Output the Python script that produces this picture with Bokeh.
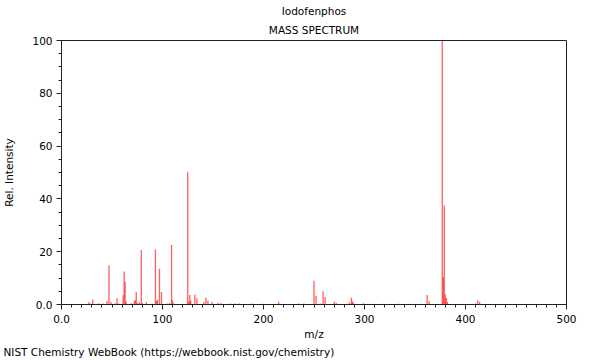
from bokeh.plotting import figure
from bokeh.models import FixedTicker, Title, ColumnDataSource
from bokeh.embed import file_html
from bokeh.resources import INLINE

# m/z values and relative intensities
mz = [27, 29, 31, 37, 41, 45, 47, 49, 53, 55, 57, 61, 62, 63, 64, 69, 72, 73, 74, 75,
      77, 79, 80, 84, 90, 93, 94, 95, 97, 99, 105, 107, 109, 110, 111, 125, 126, 127,
      128, 132, 134, 141, 143, 145, 149, 155, 158, 167, 172, 176, 189, 199, 215, 235,
      240, 250, 252, 256, 259, 261, 270, 272, 285, 287, 288, 289, 299, 309, 319, 334,
      348, 362, 364, 377, 378, 379, 380, 381, 382, 410, 412, 414]
intensity = [0.9, 0.4, 1.9, 0.5, 0.4, 1.3, 14.9, 0.9, 0.5, 2.4, 0.4, 3.5, 12.5, 8.5, 1.1,
             0.5, 1.3, 1.6, 4.7, 0.6, 0.9, 20.6, 0.6, 0.9, 0.3, 20.8, 1.3, 1.8, 13.5, 4.7,
             0.4, 0.6, 22.5, 1.5, 0.4, 50.1, 1.0, 3.6, 1.5, 3.7, 2.4, 0.9, 2.6, 1.5, 0.9,
             0.6, 0.6, 0.4, 0.4, 0.4, 0.4, 0.3, 1.0, 0.4, 0.4, 9.0, 3.3, 0.4, 5.0, 2.8,
             1.0, 0.7, 0.7, 2.6, 1.2, 0.8, 0.5, 0.3, 0.3, 0.3, 0.3, 3.6, 1.3, 100.0,
             10.4, 37.5, 3.8, 2.5, 1.0, 0.4, 1.5, 1.0]

x_major = [0, 100, 200, 300, 400, 500]
y_major = [0, 20, 40, 60, 80, 100]

compound = "Iodofenphos"
subtitle = "MASS SPECTRUM"
footer = "NIST Chemistry WebBook (https://webbook.nist.gov/chemistry)"

FONT = "DejaVu Sans"
FS = "10.5px"

p = figure(frame_width=505, frame_height=264, x_range=(0, 500), y_range=(0, 100),
           output_backend="svg", toolbar_location=None, title=None,
           min_border_left=58, min_border_right=19, min_border_top=40,
           min_border_bottom=0)
p.background_fill_color = "white"
p.border_fill_color = "white"
p.outline_line_color = "#222222"
p.xgrid.visible = False
p.ygrid.visible = False

src = ColumnDataSource(dict(mz=mz, intensity=intensity))
p.vbar(x="mz", top="intensity", bottom=0, width=1.3, source=src,
       fill_color="#ff0000", fill_alpha=0.62, line_color=None)

x_minor = [v for v in range(0, 501, 10) if v not in x_major]
y_minor = [v for v in range(0, 101, 5) if v not in y_major]
p.xaxis.ticker = FixedTicker(ticks=x_major, minor_ticks=x_minor)
p.yaxis.ticker = FixedTicker(ticks=y_major, minor_ticks=y_minor)
p.xaxis.major_label_overrides = {0: "0.0"}
p.yaxis.major_label_overrides = {0: "0.0"}

for ax in (p.xaxis, p.yaxis):
    ax.axis_line_color = "#222222"
    ax.major_tick_line_color = "#222222"
    ax.minor_tick_line_color = "#222222"
    ax.major_tick_in = 0
    ax.major_tick_out = 5
    ax.minor_tick_in = 0
    ax.minor_tick_out = 3
    ax.major_label_text_font = FONT
    ax.major_label_text_font_size = FS
    ax.major_label_text_color = "black"
    ax.axis_label_text_font = FONT
    ax.axis_label_text_font_size = FS
    ax.axis_label_text_font_style = "normal"
    ax.axis_label_text_color = "black"

p.xaxis.axis_label = "m/z"
p.yaxis.axis_label = "Rel. Intensity"
p.xaxis.major_label_standoff = 5
p.xaxis.axis_label_standoff = 2
p.yaxis.major_label_standoff = 4
p.yaxis.axis_label_standoff = 14

t1 = Title(text=subtitle, align="center", text_font=FONT, text_font_size=FS,
           text_font_style="normal", text_color="black", standoff=10)
t2 = Title(text=compound, align="center", text_font=FONT, text_font_size=FS,
           text_font_style="normal", text_color="black", standoff=0)
p.add_layout(t1, "above")
p.add_layout(t2, "above")

tf = Title(text=footer, align="left", offset=-58, text_font=FONT, text_font_size=FS,
           text_font_style="normal", text_color="black", standoff=2)
p.add_layout(tf, "below")

open("out.html", "w").write(file_html(p, INLINE))
